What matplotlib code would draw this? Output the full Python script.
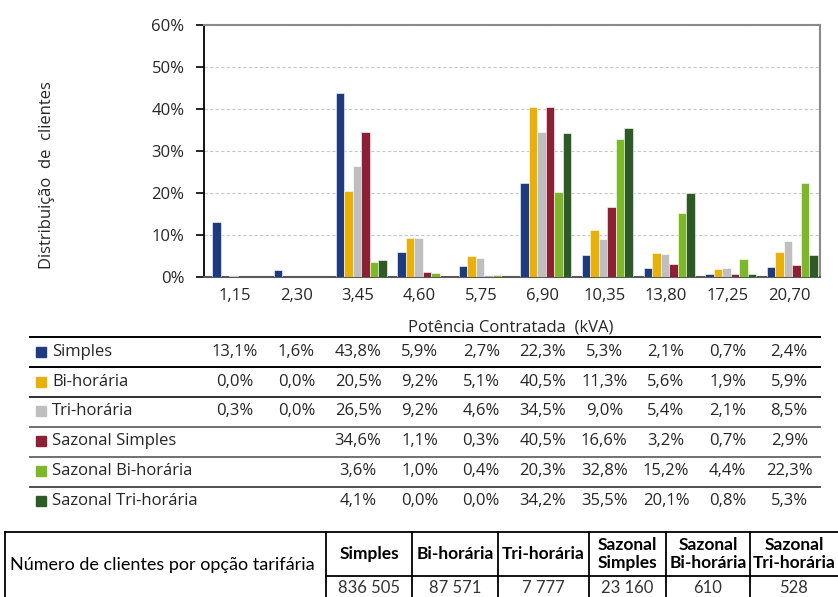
import numpy as np
import matplotlib.pyplot as plt
from matplotlib.transforms import blended_transform_factory
from matplotlib.patches import Rectangle

plt.rcParams['font.family'] = ['Open Sans', 'DejaVu Sans']

# potência contratada (kVA) e distribuição de clientes (%) por opção tarifária
potencias = ['1,15', '2,30', '3,45', '4,60', '5,75', '6,90', '10,35', '13,80', '17,25', '20,70']
opcoes = ['Simples', 'Bi-horária', 'Tri-horária', 'Sazonal Simples',
          'Sazonal Bi-horária', 'Sazonal Tri-horária']
nan = np.nan
simples = [13.1, 1.6, 43.8, 5.9, 2.7, 22.3, 5.3, 2.1, 0.7, 2.4]
bi_horaria = [0.0, 0.0, 20.5, 9.2, 5.1, 40.5, 11.3, 5.6, 1.9, 5.9]
tri_horaria = [0.3, 0.0, 26.5, 9.2, 4.6, 34.5, 9.0, 5.4, 2.1, 8.5]
sazonal_simples = [nan, nan, 34.6, 1.1, 0.3, 40.5, 16.6, 3.2, 0.7, 2.9]
sazonal_bi = [nan, nan, 3.6, 1.0, 0.4, 20.3, 32.8, 15.2, 4.4, 22.3]
sazonal_tri = [nan, nan, 4.1, 0.0, 0.0, 34.2, 35.5, 20.1, 0.8, 5.3]
series = [simples, bi_horaria, tri_horaria, sazonal_simples, sazonal_bi, sazonal_tri]
cores = ['#1f3b80', '#e9b008', '#bfbfbf', '#8c2135', '#7cb829', '#2d5a25']

# número de clientes por opção tarifária
cab_clientes = ['Simples', 'Bi-horária', 'Tri-horária', 'Sazonal\nSimples',
                'Sazonal\nBi-horária', 'Sazonal\nTri-horária']
clientes = [836505, 87571, 7777, 23160, 610, 528]

W, H = 838, 597
fig = plt.figure(figsize=(W / 100, H / 100), dpi=100)
ax = fig.add_axes([204 / W, 1 - 277 / H, 616 / W, 252 / H])

# camada em pixels para as tabelas
tab = fig.add_axes([0, 0, 1, 1])
tab.set_xlim(0, W)
tab.set_ylim(H, 0)
tab.axis('off')
tab.patch.set_alpha(0)

x = np.arange(len(potencias))
w = 0.138
for i, (serie, cor) in enumerate(zip(series, cores)):
    ax.bar(x + (i - 2.5) * w + 0.05, serie, w, color=cor, edgecolor='white', linewidth=0.4, zorder=3)

fs = 12
ax.set_xlim(-0.5, len(potencias) - 0.5)
ax.set_ylim(0, 60)
ax.set_yticks(np.arange(0, 61, 10))
ax.set_yticklabels([f'{v}%' for v in range(0, 61, 10)])
ax.set_xticks(x)
ax.set_xticklabels(potencias)
ax.tick_params(axis='x', length=0, pad=8, labelsize=fs, colors='#262626')
ax.tick_params(axis='y', length=6, width=1.2, pad=8, labelsize=fs, colors='#262626')
ax.tick_params(axis='y', color='black')
ax.yaxis.grid(True, linestyle=(0, (3, 2)), color='#c8c8c8', linewidth=0.8)
ax.set_axisbelow(True)
ax.spines['left'].set_color('black')
ax.spines['left'].set_linewidth(1.3)
ax.spines['bottom'].set_color('#595959')
ax.spines['bottom'].set_linewidth(1.5)
for s in ['top', 'right']:
    ax.spines[s].set_color('#8a8a8a')
    ax.spines[s].set_linewidth(1.5)

tab.text(47, 175, 'Distribuição  de  clientes', rotation=90, ha='center', va='center',
         fontsize=fs, color='#262626')
tab.text(511, 328, 'Potência Contratada  (kVA)', ha='center', va='center',
         fontsize=fs, color='#262626')

# tabela de percentagens
tr = blended_transform_factory(ax.transData, tab.transData)
row_y = [352, 382, 411, 441, 471, 501]
line_y = [337, 367, 397, 427, 457, 487]
line_c = ['black', 'black', '#303030', '#707070', '#707070', '#505050']
for ly, lc in zip(line_y, line_c):
    tab.plot([30, 820], [ly, ly], color=lc, linewidth=1.4)
for ry, nome, serie, cor in zip(row_y, opcoes, series, cores):
    tab.add_patch(Rectangle((36, ry - 5), 10, 10, color=cor))
    tab.text(52, ry, nome, ha='left', va='center', fontsize=fs, color='#262626')
    for xi, v in zip(x, serie):
        if not np.isnan(v):
            tab.text(xi, ry, f'{v:.1f}%'.replace('.', ','), transform=tr,
                     ha='center', va='center', fontsize=fs, color='#262626')

# tabela do número de clientes
cols = [326, 412, 498, 589, 666, 750, 838]
top, mid, bot = 532, 576, 610
lato = ['Lato', 'DejaVu Sans']
lk = dict(color='black', linewidth=1.3, clip_on=False)
tab.plot([5, 838], [top, top], **lk)
tab.plot([5, 5], [top, bot], **lk)
tab.plot([cols[0], 838], [mid, mid], **lk)
for cx in cols[:-1]:
    tab.plot([cx, cx], [top, bot], **lk)
tab.text(10, 565, 'Número de clientes por opção tarifária', ha='left', va='center',
         fontsize=13, family=lato, color='black')
for c0, c1, cab, n in zip(cols[:-1], cols[1:], cab_clientes, clientes):
    xc = (c0 + c1) / 2
    tab.text(xc, 554, cab, ha='center', va='center', fontsize=12.5, fontweight='bold',
             family=lato, linespacing=1.1)
    tab.text(xc, 588, f'{n:,}'.replace(',', ' '), ha='center', va='center', fontsize=12,
             family=lato, color='#333333')

fig.savefig('out.png', dpi=100)
